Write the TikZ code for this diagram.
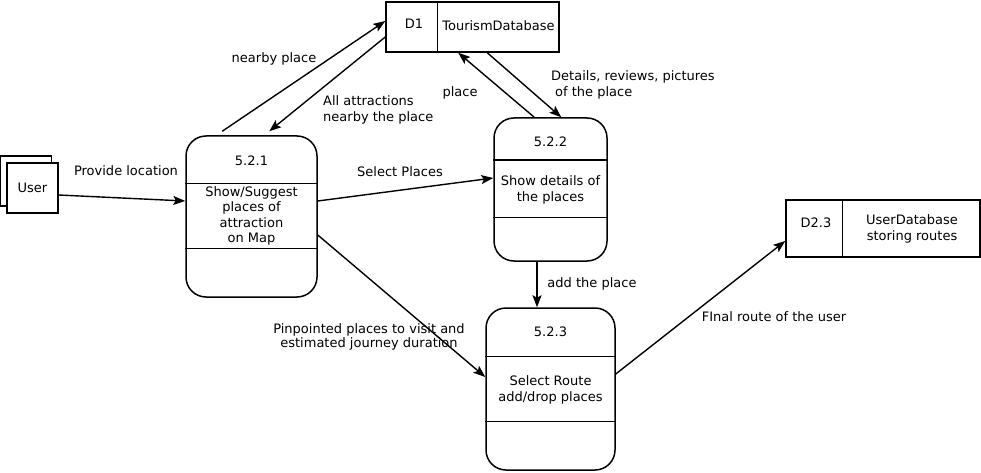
\documentclass[tikz,border=0pt]{standalone}
\usepackage{fontspec}
\setmainfont{DejaVu Sans}
\usetikzlibrary{arrows.meta,calc}
\begin{document}
\begin{tikzpicture}[x=1pt,y=-1pt,
  every node/.style={font=\fontsize{13}{15.5}\selectfont},
  proc/.style={draw,line width=1.5pt,rounded corners=20pt,inner sep=0pt},
  store/.style={draw,line width=1.5pt,inner sep=0pt},
  ent/.style={draw,line width=1.3pt,fill=white,inner sep=0pt,minimum width=51pt,minimum height=50pt},
  flow/.style={line width=1.4pt,-{Stealth[length=12pt,width=9pt,inset=2.5pt]}},
  lbl/.style={inner sep=0pt,align=center},
  div/.style={line width=1.5pt}]
\useasboundingbox (0,0) rectangle (981,473);
% User entity
\node[ent] (userb) at (26,181) {};
\node[ent,minimum width=51pt] (user) at (32.5,188) {User};
% processes
\node[proc,minimum width=131pt,minimum height=161pt] (p1) at (251.5,216.5) {};
\node[proc,minimum width=113pt,minimum height=143pt] (p2) at (550.5,189.5) {};
\node[proc,minimum width=129pt,minimum height=162pt] (p3) at (550.5,389) {};
\draw[div] ($(p1.north west)+(0,48)$) -- ($(p1.north east)+(0,48)$);
\draw[div] ($(p1.north west)+(0,113)$) -- ($(p1.north east)+(0,113)$);
\draw[div] ($(p2.north west)+(0,43)$) -- ($(p2.north east)+(0,43)$);
\draw[div] ($(p2.north west)+(0,100)$) -- ($(p2.north east)+(0,100)$);
\draw[div] ($(p3.north west)+(0,49)$) -- ($(p3.north east)+(0,49)$);
\draw[div] ($(p3.north west)+(0,114)$) -- ($(p3.north east)+(0,114)$);
\node[lbl] (p1t) at (251.5,161) {5.2.1};
\node[lbl] (p1b) at (251.5,216) {Show/Suggest\\places of\\attraction\\on Map};
\node[lbl] (p2t) at (550.5,142) {5.2.2};
\node[lbl] (p2b) at (550.5,190) {Show details of\\the places};
\node[lbl] (p3t) at (550.5,332) {5.2.3};
\node[lbl] (p3b) at (550.5,390) {Select Route\\add/drop places};
% data stores
\node[store,minimum width=173pt,minimum height=50pt] (d1) at (472.5,27) {};
\draw[div] ($(d1.north west)+(52,0)$) -- ($(d1.south west)+(52,0)$);
\node[lbl] (d1a) at (414,24) {D1};
\node[lbl] (d1b) at (498.5,26) {TourismDatabase};
\node[store,minimum width=194pt,minimum height=57pt] (d2) at (883,228.5) {};
\draw[div] ($(d2.north west)+(57,0)$) -- ($(d2.south west)+(57,0)$);
\node[lbl] (d2a) at (816,223) {D2.3};
\node[lbl] (d2b) at (912,229) {UserDatabase\\storing routes};
% flows
\draw[flow] (user.east |- 0,195) -- ($(p1.west)+(0,-15.5)$);
\draw[flow] ($(p1.north west)+(37,-4)$) -- ($(d1.west)+(0,-6)$);
\draw[flow] ($(d1.west)+(0,10)$) -- ($(p1.north west)+(84,-4)$);
\draw[flow] ($(p2.north west)+(41,0)$) -- ($(d1.south west)+(73,0)$);
\draw[flow] ($(d1.south west)+(102,0)$) -- ($(p2.north west)+(68,0)$);
\draw[flow] ($(p1.east)+(0,-15.5)$) -- ($(p2.west)+(0,-11.5)$);
\draw[flow] ($(p2.south)+(-13.5,0)$) -- ($(p3.north)+(-13.5,0)$);
\draw[flow] ($(p1.east)+(0,18.5)$) -- ($(p3.west)+(0,-12)$);
\draw[flow] ($(p3.east)+(0,-15)$) -- ($(d2.west)+(0,12.5)$);
% labels
\node[lbl] (l1) at (126,171) {Provide location};
\node[lbl] (l2) at (274,59) {nearby place};
\node[lbl,anchor=west,align=left] (l3) at (323,110) {All attractions\\nearby the place};
\node[lbl] (l4) at (460,93) {place};
\node[lbl,anchor=west,align=left] (l5) at (551,85) {Details, reviews, pictures\\\hspace{4pt}of the place};
\node[lbl] (l6) at (400,172) {Select Places};
\node[lbl] (l7) at (592,284) {add the place};
\node[lbl,font=\fontsize{13}{14}\selectfont] (l8) at (369,337) {Pinpointed places to visit and\\estimated journey duration};
\node[lbl] (l9) at (774,317) {FInal route of the user};
\end{tikzpicture}
\end{document}
